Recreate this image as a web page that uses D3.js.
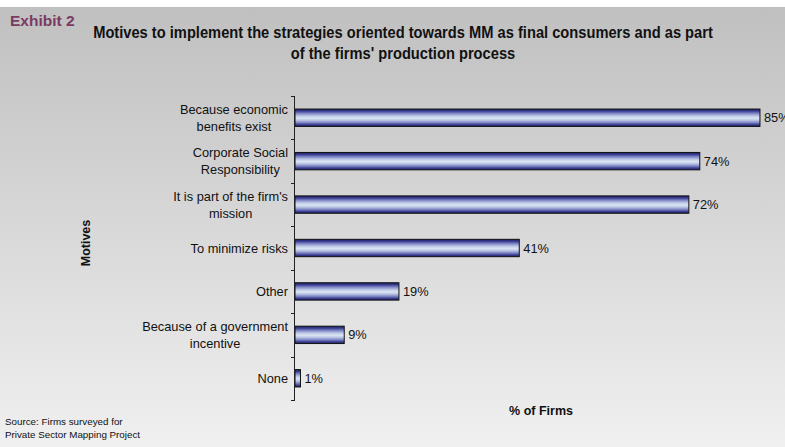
<!DOCTYPE html>
<html>
<head>
<meta charset="utf-8">
<script src="https://cdn.jsdelivr.net/npm/d3@7/dist/d3.min.js"></script>
<style>
  html, body { margin: 0; padding: 0; background: #fff; }
  svg { display: block; }
  text { font-family: "Liberation Sans", Arial, sans-serif; }
</style>
</head>
<body>
<svg id="chart" width="785" height="447"></svg>
<script>
// Survey results: share of firms citing each motive
const motives = [
  ["Because economic", "benefits exist"],
  ["Corporate Social", "Responsibility"],
  ["It is part of the firm's", "mission"],
  ["To minimize risks"],
  ["Other"],
  ["Because of a government", "incentive"],
  ["None"]
];
const percentFirms = [85, 74, 72, 41, 19, 9, 1];
const titleLines = [
  "Motives to implement the strategies oriented towards MM as final consumers and as part",
  "of the firms' production process"
];
const sourceLines = ["Source: Firms surveyed for", "Private Sector Mapping Project"];

const W = 785, H = 447;
const svg = d3.select("#chart");
const defs = svg.append("defs");

// Panel background: grey at the top fading to near-white at the bottom
const bg = defs.append("linearGradient").attr("id", "bgGrad")
  .attr("x1", 0).attr("y1", 0).attr("x2", 0).attr("y2", 1);
bg.append("stop").attr("offset", "0%").attr("stop-color", "#c0c0c0");
bg.append("stop").attr("offset", "100%").attr("stop-color", "#f0f0f0");

// Cylindrical bar fill: dark navy edges, pale blue centre
const bar = defs.append("linearGradient").attr("id", "barGrad")
  .attr("x1", 0).attr("y1", 0).attr("x2", 0).attr("y2", 1);
[
  [0, "#1c1c64"], [0.12, "#3a3f92"], [0.25, "#7f86c4"], [0.4, "#bcc8e6"],
  [0.52, "#dbe5f4"], [0.64, "#bcc8e6"], [0.78, "#7f86c4"], [0.9, "#3a3f92"], [1, "#1c1c64"]
].forEach(([o, c]) => bar.append("stop").attr("offset", o).attr("stop-color", c));

svg.append("rect").attr("x", 0).attr("y", 0).attr("width", W).attr("height", H).attr("fill", "#fff");
svg.append("rect").attr("x", 0).attr("y", 7).attr("width", W).attr("height", H - 7)
  .attr("fill", "url(#bgGrad)");

// Header
svg.append("text").attr("x", 10).attr("y", 26)
  .attr("font-size", 15.5).attr("font-weight", "bold").attr("fill", "#7a3a64")
  .text("Exhibit 2");

// Title set in a condensed face: glyphs are squeezed horizontally
const titleWidth = 620;
const titleG = svg.append("g");
const titleTexts = titleLines.map((t, i) => titleG.append("text")
  .attr("text-anchor", "middle")
  .attr("font-size", 17).attr("font-weight", "bold").attr("fill", "#111")
  .text(t));
const k = titleWidth / titleTexts[0].node().getComputedTextLength();
titleTexts.forEach((t, i) => t.attr("transform", `translate(403,${38 + i * 21}) scale(${k},1)`));

// Scales
const labels = motives.map(m => m.join(" "));
const x = d3.scaleLinear().domain([0, 100]).range([295, 842]);
const y = d3.scaleBand().domain(labels).range([96, 400]).paddingInner(0.6).paddingOuter(0.3);

// Bars
svg.append("g").selectAll("rect")
  .data(percentFirms)
  .join("rect")
  .attr("x", x(0))
  .attr("y", (d, i) => y(labels[i]))
  .attr("width", d => x(d) - x(0))
  .attr("height", y.bandwidth())
  .attr("fill", "url(#barGrad)")
  .attr("stroke", "#111")
  .attr("stroke-width", 1);

// Value labels
svg.append("g").selectAll("text")
  .data(percentFirms)
  .join("text")
  .attr("x", d => x(d) + 4)
  .attr("y", (d, i) => y(labels[i]) + y.bandwidth() / 2 + 4.5)
  .attr("font-size", 12.8).attr("fill", "#111")
  .text(d => d + "%");

// Category axis: vertical line with ticks on the category boundaries
const axis = svg.append("g").attr("stroke", "#222").attr("stroke-width", 1);
const [y0, y1] = y.range();
axis.append("line").attr("x1", x(0) - 0.5).attr("x2", x(0) - 0.5).attr("y1", y0).attr("y2", y1);
d3.range(labels.length + 1).forEach(i => {
  const yy = Math.round(y0 + i * y.step()) + 0.5;
  axis.append("line").attr("x1", x(0) - 4).attr("x2", x(0)).attr("y1", yy).attr("y2", yy);
});

// Category labels, wrapped lines centred as a block, right-aligned to the axis
const catG = svg.append("g");
motives.forEach((lines, i) => {
  const cy = y(labels[i]) + y.bandwidth() / 2;
  const g = catG.append("g");
  const texts = lines.map((l, j) => g.append("text")
    .attr("font-size", 12.8).attr("fill", "#111")
    .attr("text-anchor", "middle")
    .attr("y", cy + 4.5 + (j - (lines.length - 1) / 2) * 17)
    .text(l));
  const maxW = d3.max(texts, t => t.node().getComputedTextLength());
  texts.forEach(t => t.attr("x", 288 - maxW / 2));
});

// Axis titles
svg.append("text")
  .attr("transform", "translate(90,243) rotate(-90)")
  .attr("text-anchor", "middle")
  .attr("font-size", 12.5).attr("font-weight", "bold").attr("fill", "#111")
  .text("Motives");

svg.append("text")
  .attr("x", 541).attr("y", 415)
  .attr("text-anchor", "middle")
  .attr("font-size", 12.5).attr("font-weight", "bold").attr("fill", "#111")
  .text("% of Firms");

// Source note
sourceLines.forEach((t, i) => {
  svg.append("text")
    .attr("x", 5).attr("y", 425 + i * 12.5)
    .attr("font-size", 9.8).attr("fill", "#111")
    .text(t);
});
</script>
</body>
</html>
